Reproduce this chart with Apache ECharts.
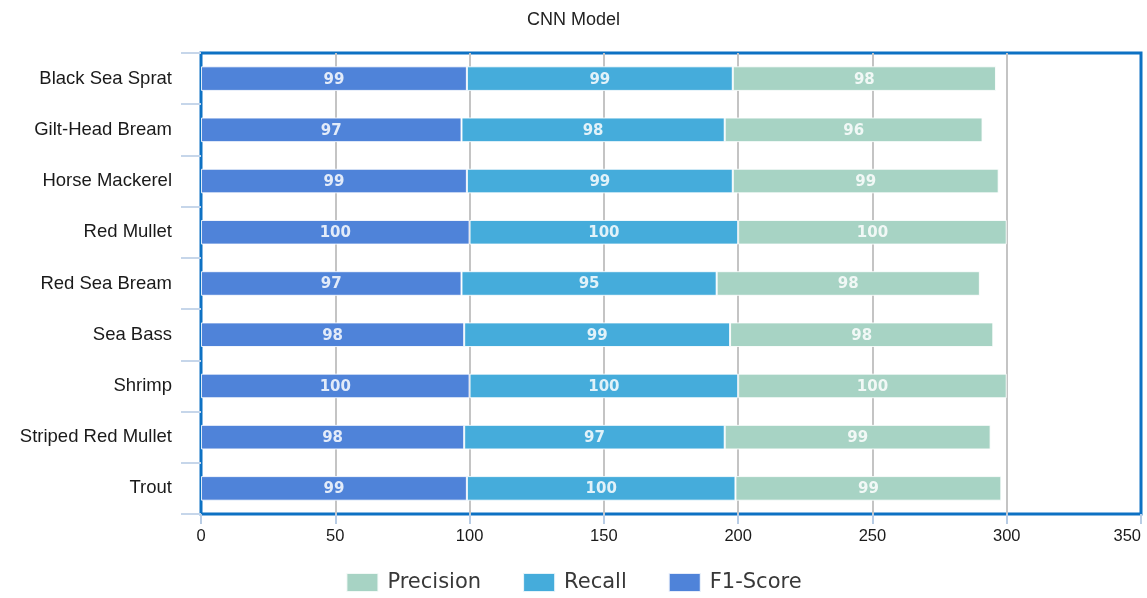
<!DOCTYPE html>
<html>
<head>
<meta charset="utf-8">
<script src="https://cdn.jsdelivr.net/npm/echarts@6/dist/echarts.min.js"></script>
<style>html,body{margin:0;padding:0;background:#fff}#chart{width:1147px;height:598px}</style>
</head>
<body>
<div id="chart"></div>
<script>
// Per-class scores of the CNN model (percent)
const categories = ['Black Sea Sprat', 'Gilt-Head Bream', 'Horse Mackerel', 'Red Mullet', 'Red Sea Bream', 'Sea Bass', 'Shrimp', 'Striped Red Mullet', 'Trout'];
const f1Score   = [99, 97, 99, 100, 97, 98, 100, 98, 99];
const recall    = [99, 98, 99, 100, 95, 99, 100, 97, 100];
const precision = [98, 96, 99, 100, 98, 98, 100, 99, 99];
const xTicks = [0, 50, 100, 150, 200, 250, 300, 350];

const chart = echarts.init(document.getElementById('chart'));

function stackSeries(name, data, color) {
  return {
    name: name,
    type: 'bar',
    stack: 'total',
    data: data,
    barWidth: '48%',
    itemStyle: { color: color, borderColor: 'rgba(255,255,255,0.85)', borderWidth: 1 },
    label: {
      show: true,
      position: 'inside',
      offset: [0, 1],
      color: 'rgba(255,255,255,0.84)',
      fontWeight: 'bold',
      fontSize: 15,
      fontFamily: 'DejaVu Sans'
    }
  };
}

chart.setOption({
  animation: false,
  title: {
    text: 'CNN Model',
    left: 'center',
    top: 6,
    textStyle: { fontSize: 18, fontWeight: 'normal', color: '#222', fontFamily: 'Liberation Sans' }
  },
  legend: {
    bottom: 0,
    left: 'center',
    itemWidth: 32,
    itemHeight: 19,
    itemGap: 41,
    icon: 'rect',
    data: ['Precision', 'Recall', 'F1-Score'],
    textStyle: { fontSize: 21, color: '#383838', fontFamily: 'DejaVu Sans', padding: [0, 0, 0, 4] }
  },
  grid: {
    left: 201, right: 6, top: 53, bottom: 84,
    show: true,
    borderColor: '#0d71c3',
    borderWidth: 3,
    containLabel: false,
    outerBoundsMode: 'none'
  },
  xAxis: {
    type: 'value',
    min: xTicks[0],
    max: xTicks[xTicks.length - 1],
    interval: 50,
    axisLine: { show: false },
    axisTick: { show: true, length: 10, lineStyle: { color: '#b8cce4', width: 2 } },
    axisLabel: { fontSize: 16.5, color: '#1a1a1a', fontFamily: 'Liberation Sans', margin: 14, alignMaxLabel: 'right' },
    splitLine: { show: true, showMinLine: false, showMaxLine: false, lineStyle: { color: '#c4c4c4', width: 2 } }
  },
  yAxis: {
    type: 'category',
    inverse: true,
    data: categories,
    axisLine: { show: false },
    axisTick: { show: true, length: 20, lineStyle: { color: '#c6d6ea', width: 2 } },
    axisLabel: { fontSize: 18.5, color: '#1a1a1a', fontFamily: 'Liberation Sans', margin: 29 },
    splitLine: { show: false }
  },
  series: [
    stackSeries('F1-Score', f1Score, '#4f83d9'),
    stackSeries('Recall', recall, '#45acdb'),
    stackSeries('Precision', precision, '#a7d3c4')
  ]
});
</script>
</body>
</html>
